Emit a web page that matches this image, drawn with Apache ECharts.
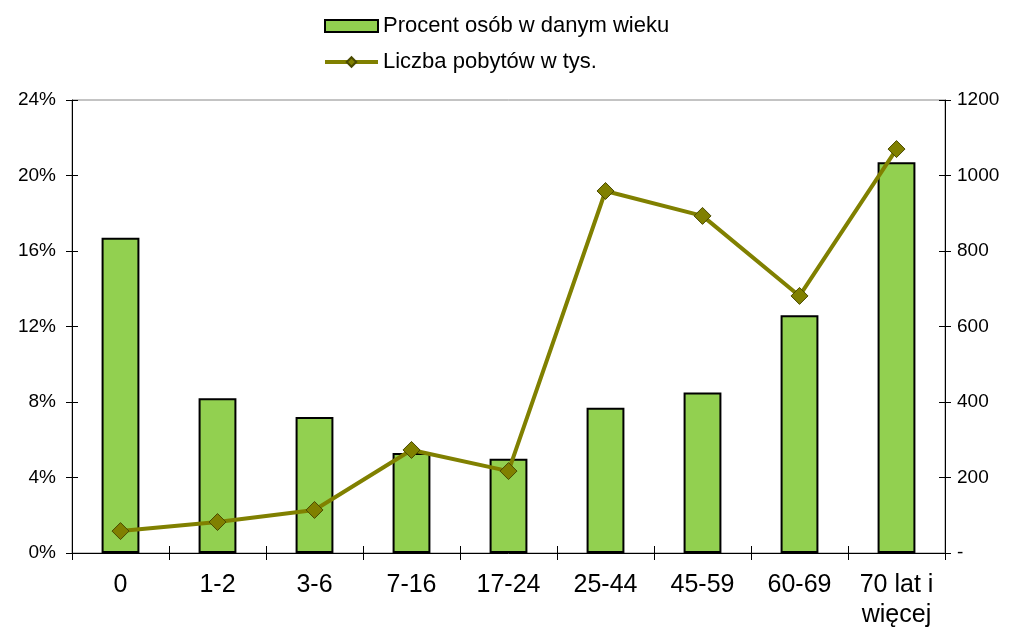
<!DOCTYPE html>
<html><head><meta charset="utf-8">
<script src="https://cdn.jsdelivr.net/npm/echarts@6/dist/echarts.min.js"></script>
<style>html,body{margin:0;padding:0;background:#fff}#c{width:1019px;height:627px}</style>
</head><body><div id="c"></div>
<script>
const categories = ['0','1-2','3-6','7-16','17-24','25-44','45-59','60-69','70 lat i\nwięcej'];
const percentValues = [16.7, 8.2, 7.2, 5.3, 5.0, 7.7, 8.5, 12.6, 20.7];
const stayValues = [58, 82, 114, 273, 217, 959, 893, 681, 1070];
const barName = 'Procent osób w danym wieku';
const lineName = 'Liczba pobytów w tys.';
const font = 'Liberation Sans, Arial, sans-serif';

const tickAxisY = (pos, min, max, interval) => ({
  type: 'value', min: min, max: max, interval: interval, position: pos,
  axisLine: {show: false}, splitLine: {show: false}, axisLabel: {show: false},
  axisTick: {show: true, inside: true, length: 6, lineStyle: {color: '#000'}}
});

const chart = echarts.init(document.getElementById('c'));
chart.setOption({
  animation: false,
  textStyle: {fontFamily: font},
  legend: {
    orient: 'vertical', left: 318, top: 10, itemGap: 14,
    itemWidth: 53, itemHeight: 12,
    textStyle: {fontSize: 22, color: '#000', fontFamily: font},
    data: [
      {name: barName, icon: 'rect', itemStyle: {color: '#92D050', borderColor: '#000', borderWidth: 2}},
      {name: lineName, lineStyle: {width: 4, color: '#808000'}}
    ]
  },
  grid: {left: 72, right: 74, top: 100, bottom: 74, show: true, borderColor: '#888', borderWidth: 1,
         containLabel: false, outerBoundsMode: 'none'},
  xAxis: [
    {
      type: 'category', data: categories, boundaryGap: true,
      axisLine: {lineStyle: {color: '#000', width: 1}},
      axisTick: {show: true, length: 7, lineStyle: {color: '#000'}},
      axisLabel: {fontSize: 25, color: '#000', margin: 17, lineHeight: 30, fontFamily: font, interval: 0}
    },
    {
      type: 'category', data: categories, boundaryGap: true, position: 'bottom',
      axisLine: {show: false}, axisLabel: {show: false},
      axisTick: {show: true, inside: true, length: 7, lineStyle: {color: '#000'}}
    }
  ],
  yAxis: [
    {
      type: 'value', min: 0, max: 24, interval: 4, position: 'left',
      axisLine: {show: true, lineStyle: {color: '#000'}},
      axisTick: {show: true, length: 6, lineStyle: {color: '#000'}},
      splitLine: {show: false},
      axisLabel: {fontSize: 19, color: '#000', margin: 16, formatter: v => v + '%', fontFamily: font}
    },
    {
      type: 'value', min: 0, max: 1200, interval: 200, position: 'right',
      axisLine: {show: true, lineStyle: {color: '#000'}},
      axisTick: {show: true, length: 6, lineStyle: {color: '#000'}},
      splitLine: {show: false},
      axisLabel: {fontSize: 19, color: '#000', margin: 12, formatter: v => v === 0 ? '-' : String(v), fontFamily: font}
    },
    tickAxisY('left', 0, 24, 4),
    tickAxisY('right', 0, 1200, 200)
  ],
  series: [
    {
      name: barName, type: 'bar', yAxisIndex: 0, data: percentValues,
      barWidth: '39%',
      itemStyle: {color: '#92D050', borderColor: '#000', borderWidth: 2}
    },
    {
      name: lineName, type: 'line', yAxisIndex: 1, data: stayValues,
      symbol: 'diamond', symbolSize: 17,
      lineStyle: {color: '#808000', width: 4},
      itemStyle: {color: '#808000', borderColor: '#4a4a00', borderWidth: 1}
    }
  ]
});
</script></body></html>
